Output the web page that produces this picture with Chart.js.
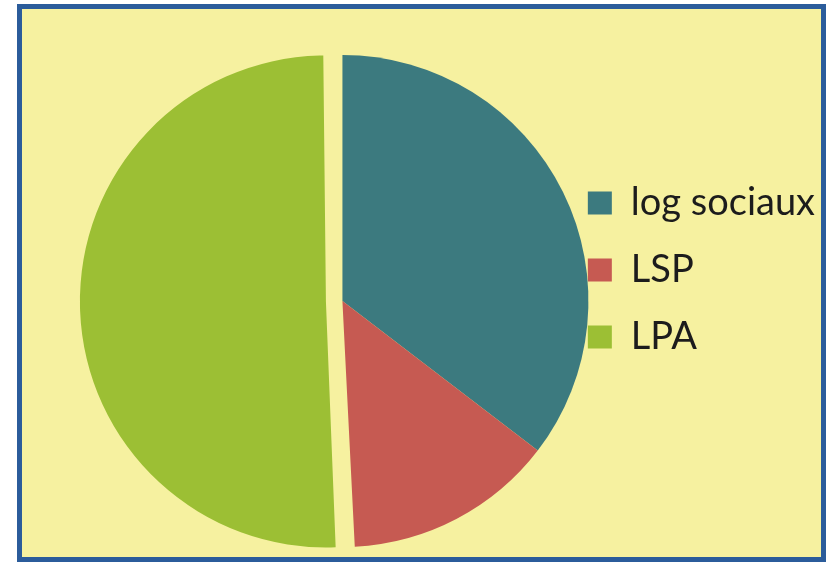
<!DOCTYPE html>
<html>
<head>
<meta charset="utf-8">
<script src="https://cdn.jsdelivr.net/npm/chart.js@4.4.1/dist/chart.umd.min.js"></script>
<style>
  html, body { margin: 0; padding: 0; background: #ffffff; width: 827px; height: 562px; overflow: hidden; }
  #frame { position: absolute; left: 17px; top: 4px; width: 799px; height: 548px;
           border: 5px solid #2b5c9b; background: #f6f1a0; }
  #c { position: absolute; left: 0; top: 0; }
</style>
</head>
<body>
<div id="frame"></div>
<canvas id="c" width="827" height="562"></canvas>
<script>
// Data (shares in %)
const categories = ['log sociaux', 'LSP', 'LPA'];
const shares = [35.4, 13.8, 50.8];
const sliceColors = ['#3c7a7f', '#c65a52', '#9cbf34'];
const sliceOffsets = [0, 0, 66];

// Keep the exploded slice the same size as the others (Chart.js grows it by offset/4)
const keepOffsetSliceRadius = {
  id: 'keepOffsetSliceRadius',
  beforeDatasetsDraw(chart) {
    const meta = chart.getDatasetMeta(0);
    const baseR = meta.controller.outerRadius;
    meta.data.forEach((arc) => {
      const o = (arc.options && arc.options.offset) || 0;
      arc.outerRadius = baseR - o / 4;
    });
  }
};

new Chart(document.getElementById('c'), {
  type: 'pie',
  data: {
    labels: categories,
    datasets: [{
      data: shares,
      backgroundColor: sliceColors,
      borderWidth: 0,
      offset: sliceOffsets,
      hoverOffset: 0,
      clip: false
    }]
  },
  options: {
    responsive: false,
    animation: false,
    radius: 246,
    layout: { padding: { left: 126, right: 2, top: 155, bottom: 115 } },
    plugins: {
      tooltip: { enabled: false },
      legend: {
        position: 'right',
        align: 'start',
        labels: {
          boxWidth: 24,
          boxHeight: 23,
          padding: 29,
          color: '#1c1c1c',
          font: { family: 'Lato', size: 38 }
        }
      }
    }
  },
  plugins: [keepOffsetSliceRadius]
});
</script>
</body>
</html>
